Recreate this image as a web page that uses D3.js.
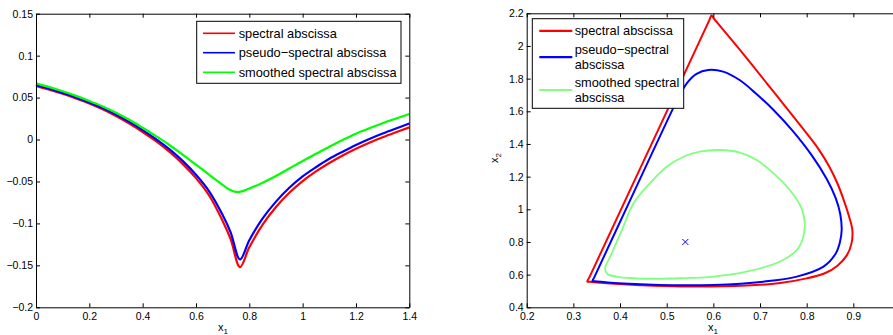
<!DOCTYPE html>
<html>
<head>
<meta charset="utf-8">
<script src="https://cdn.jsdelivr.net/npm/d3@7/dist/d3.min.js"></script>
<style>
body{margin:0;background:#fff}
text{font-family:"Liberation Sans",Arial,Helvetica,sans-serif}
</style>
</head>
<body>
<div id="chart"></div>
<script>
// left panel: abscissa along x1
var sweepX=[0,0.05,0.1,0.15,0.2,0.25,0.3,0.35,0.4,0.45,0.5,0.55,0.6,0.65,0.7,0.73,0.765,0.8,0.85,0.9,0.95,1,1.05,1.1,1.15,1.2,1.25,1.3,1.35,1.4];
var spectralY=[0.064,0.0595,0.0545,0.049,0.043,0.036,0.028,0.019,0.009,-0.002,-0.0145,-0.029,-0.046,-0.067,-0.097,-0.1186,-0.152,-0.1285,-0.1015,-0.0805,-0.0635,-0.0495,-0.038,-0.028,-0.019,-0.011,-0.0038,0.0027,0.0087,0.0145];
var pseudoY=[0.065,0.0605,0.0555,0.0502,0.0443,0.0375,0.0297,0.021,0.0112,0.0005,-0.0115,-0.0255,-0.042,-0.062,-0.090,-0.1106,-0.143,-0.12,-0.094,-0.074,-0.0575,-0.044,-0.033,-0.023,-0.0145,-0.0065,0.0007,0.0072,0.0132,0.019];
var smoothX=[0,0.05,0.1,0.15,0.2,0.25,0.3,0.35,0.4,0.45,0.5,0.55,0.6,0.65,0.7,0.725,0.75,0.775,0.8,0.85,0.9,0.95,1,1.05,1.1,1.15,1.2,1.25,1.3,1.35,1.4];
var smoothY=[0.067,0.0625,0.0575,0.052,0.046,0.0395,0.032,0.0235,0.014,0.004,-0.0065,-0.018,-0.030,-0.042,-0.054,-0.0595,-0.0625,-0.0615,-0.0585,-0.0515,-0.0435,-0.0345,-0.0255,-0.017,-0.0085,-0.0005,0.007,0.0135,0.0195,0.025,0.0305];

// right panel: level curves in (x1,x2)
var redLoopX=[0.330,0.3353,0.463,0.5907,0.596,0.6021,0.657,0.729,0.800,0.825,0.848,0.866,0.880,0.891,0.898,0.896,0.886,0.866,0.840,0.800,0.743,0.671,0.529,0.443,0.371,0.3341];
var redLoopY=[0.557,0.5896,1.3715,2.1534,2.186,2.1644,1.976,1.720,1.465,1.370,1.264,1.158,1.052,0.955,0.870,0.790,0.718,0.655,0.610,0.577,0.549,0.533,0.527,0.535,0.547,0.556];
var blueLoopX=[0.341,0.345,0.424,0.507,0.521,0.543,0.564,0.589,0.621,0.657,0.690,0.729,0.770,0.811,0.843,0.862,0.872,0.875,0.871,0.862,0.836,0.779,0.707,0.600,0.514,0.407,0.346];
var blueLoopY=[0.561,0.585,1.07,1.578,1.660,1.771,1.829,1.853,1.843,1.790,1.712,1.608,1.480,1.330,1.185,1.070,0.970,0.873,0.795,0.728,0.649,0.588,0.557,0.537,0.535,0.545,0.560];
var greenLoopX=[0.368,0.379,0.404,0.429,0.464,0.500,0.536,0.571,0.614,0.657,0.693,0.729,0.764,0.789,0.796,0.782,0.743,0.671,0.600,0.529,0.443,0.393,0.373];
var greenLoopY=[0.639,0.710,0.873,1.037,1.159,1.261,1.322,1.353,1.363,1.347,1.302,1.220,1.118,1.006,0.894,0.761,0.680,0.618,0.588,0.578,0.576,0.588,0.604];
var markX=[0.54], markY=[0.80];

var leftXTicks=[0,0.2,0.4,0.6,0.8,1,1.2,1.4];
var leftYTicks=[-0.2,-0.15,-0.1,-0.05,0,0.05,0.1,0.15];
var rightXTicks=[0.2,0.3,0.4,0.5,0.6,0.7,0.8,0.9];
var rightYTicks=[0.4,0.6,0.8,1,1.2,1.4,1.6,1.8,2,2.2];

var names=["spectral abscissa","pseudo\u2212spectral abscissa","smoothed spectral abscissa"];
var namesWrapped=[["spectral abscissa"],["pseudo\u2212spectral","abscissa"],["smoothed spectral","abscissa"]];

var svg=d3.select("#chart").append("svg").attr("width",893).attr("height",335);

var fmt=function(d){ if(d==0) return "0"; return (d<0?"\u2212":"")+String(+Math.abs(d).toFixed(2)); };

function axes(xs,ys,xt,yt){
  var x0=xs.range()[0],x1=xs.range()[1],y0=ys.range()[0],y1=ys.range()[1];
  var g=svg.append("g");
  g.append("g").attr("transform","translate(0,"+y0+")")
    .call(d3.axisBottom(xs).tickValues(xt).tickSize(-4).tickSizeOuter(0).tickPadding(5).tickFormat(fmt));
  g.append("g").attr("transform","translate(0,"+y1+")")
    .call(d3.axisTop(xs).tickValues(xt).tickSize(-4).tickSizeOuter(0).tickFormat(""));
  g.append("g").attr("transform","translate("+x0+",0)")
    .call(d3.axisLeft(ys).tickValues(yt).tickSize(-4).tickSizeOuter(0).tickPadding(3).tickFormat(fmt));
  g.append("g").attr("transform","translate("+x1+",0)")
    .call(d3.axisRight(ys).tickValues(yt).tickSize(-4).tickSizeOuter(0).tickFormat(""));
  g.selectAll("text").attr("font-family",null).style("font-size","10.5px").attr("fill","#000");
  g.selectAll("path,line").attr("stroke","#000");
  return g;
}

function legend(x,y,w,h,rows,colors,lw,lineX0,lineX1,textX,rowY,lineGap){
  var g=svg.append("g");
  g.append("rect").attr("x",x).attr("y",y).attr("width",w).attr("height",h)
    .attr("fill","#fff").attr("stroke","#000").attr("stroke-width",1);
  rows.forEach(function(r,i){
    g.append("line").attr("x1",lineX0).attr("x2",lineX1).attr("y1",rowY[i]).attr("y2",rowY[i])
      .attr("stroke",colors[i]).attr("stroke-width",lw);
    var n=r.length;
    r.forEach(function(s,j){
      g.append("text").attr("x",textX).attr("y",rowY[i]+(j-(n-1)/2)*lineGap)
        .attr("dy","0.35em").style("font-size","12.8px").attr("fill","#000").text(s);
    });
  });
}

// ---- left panel
var xL=d3.scaleLinear().domain([0,1.4]).range([36,409.3]);
var yL=d3.scaleLinear().domain([-0.2,0.15]).range([307.3,13.7]);

var lineL=d3.line().curve(d3.curveCatmullRom.alpha(0.5));
var leftSeries=[
  {x:sweepX,y:spectralY,c:"#ff0000"},
  {x:sweepX,y:pseudoY,c:"#0000ff"},
  {x:smoothX,y:smoothY,c:"#00ff00"}
];
leftSeries.forEach(function(s){
  svg.append("path")
    .attr("d",lineL(s.x.map(function(v,i){return [xL(v),yL(s.y[i])];})))
    .attr("fill","none").attr("stroke",s.c).attr("stroke-width",2.2);
});
axes(xL,yL,leftXTicks,leftYTicks);
legend(196.7,21.3,204.3,62,names.map(function(n){return [n];}),["#ff0000","#0000ff","#00ff00"],1.6,203,235,238.7,[33.3,52.7,72.3],0);

var lab1=svg.append("text").attr("x",218).attr("y",331).style("font-size","11px").attr("fill","#000");
lab1.append("tspan").text("x");
lab1.append("tspan").attr("dy",3).style("font-size","8px").text("1");

// ---- right panel
var xR=d3.scaleLinear().domain([0.2,1.0]).range([526.7,900]);
var yR=d3.scaleLinear().domain([0.4,2.2]).range([307.3,13.3]);

var loop=d3.line().curve(d3.curveCatmullRomClosed.alpha(0.5));
var rightSeries=[
  {x:redLoopX,y:redLoopY,c:"#ff0000",w:2},
  {x:blueLoopX,y:blueLoopY,c:"#0000ff",w:2},
  {x:greenLoopX,y:greenLoopY,c:"#80ff80",w:1.8}
];
rightSeries.forEach(function(s){
  svg.append("path")
    .attr("d",loop(s.x.map(function(v,i){return [xR(v),yR(s.y[i])];})))
    .attr("fill","none").attr("stroke",s.c).attr("stroke-width",s.w);
});
svg.selectAll(".mark").data(markX).enter().append("path").attr("class","mark")
  .attr("transform",function(d,i){return "translate("+xR(d)+","+yR(markY[i])+")";})
  .attr("d","M-3,-3L3,3M-3,3L3,-3").attr("stroke","#0000ff").attr("stroke-width",1).attr("fill","none");

axes(xR,yR,rightXTicks,rightYTicks);
legend(532.3,18.7,151.4,89.6,namesWrapped,["#ff0000","#0000ff","#80ff80"],2.2,539.3,572.3,574.7,[30.8,57.2,90],14.5);

var lab2=svg.append("text").attr("x",708).attr("y",331).style("font-size","11px").attr("fill","#000");
lab2.append("tspan").text("x");
lab2.append("tspan").attr("dy",3).style("font-size","8px").text("1");

var lab3=svg.append("text").attr("transform","translate(498,163) rotate(-90)").style("font-size","11px").attr("fill","#000");
lab3.append("tspan").text("x");
lab3.append("tspan").attr("dy",3).style("font-size","8px").text("2");
</script>
</body>
</html>
